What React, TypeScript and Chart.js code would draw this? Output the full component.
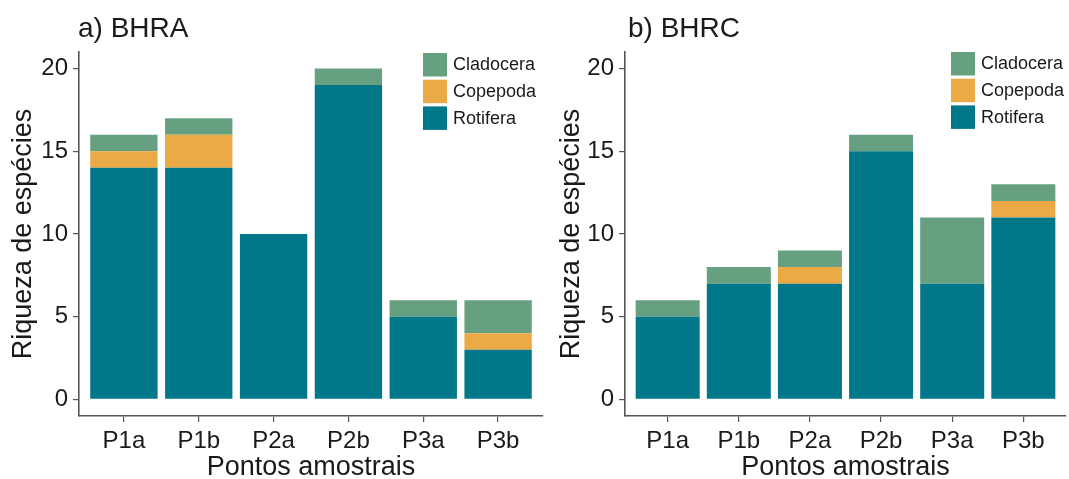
import { useEffect, useRef } from "react";
import { Chart, registerables } from "chart.js";

Chart.register(...registerables);

// Sampling sites along the x axis
const sites = ["P1a", "P1b", "P2a", "P2b", "P3a", "P3b"];

// Zooplankton groups, stacked bottom to top
const groups = ["Rotifera", "Copepoda", "Cladocera"];
const groupColors = ["#00788A", "#EBAA46", "#66A080"];

// Species richness per group – BHRA
const bhraRotifera = [14, 14, 10, 19, 5, 3];
const bhraCopepoda = [1, 2, 0, 0, 0, 1];
const bhraCladocera = [1, 1, 0, 1, 1, 2];

// Species richness per group – BHRC
const bhrcRotifera = [5, 7, 7, 15, 7, 11];
const bhrcCopepoda = [0, 0, 1, 0, 0, 1];
const bhrcCladocera = [1, 1, 1, 1, 4, 1];

const yTicks = [0, 5, 10, 15, 20];

const FONT = '"Liberation Sans", Arial, Helvetica, sans-serif';
const TEXT = "#1a1a1a";
const AXIS = "#555555";
const HEIGHT = 479;

type PanelProps = {
  title: string;
  series: number[][];
  left: number;
  width: number;
  axisWidth: number;
  rightPad: number;
  titleX: number;
  legendX: number;
  legendTop: number;
};

function Panel({ title, series, left, width, axisWidth, rightPad, titleX, legendX, legendTop }: PanelProps) {
  const ref = useRef<HTMLCanvasElement>(null);

  useEffect(() => {
    // Panel heading and the key in the upper-right corner
    const decor = {
      id: "panelDecor",
      afterDraw(chart: any) {
        const ctx = chart.ctx as CanvasRenderingContext2D;
        ctx.save();
        ctx.fillStyle = TEXT;
        ctx.font = `28px ${FONT}`;
        ctx.textAlign = "left";
        ctx.textBaseline = "middle";
        ctx.fillText(title, titleX, 29);

        const items = chart.data.datasets.slice().reverse();
        items.forEach((ds: any, i: number) => {
          const y = legendTop + i * 26.7;
          ctx.fillStyle = ds.backgroundColor;
          ctx.fillRect(legendX, y, 24, 23.5);
          ctx.fillStyle = TEXT;
          ctx.font = `18px ${FONT}`;
          ctx.fillText(ds.label, legendX + 30, y + 12.5);
        });
        ctx.restore();
      },
    };

    const chart = new Chart(ref.current!, {
      type: "bar",
      data: {
        datasets: groups.map((g, i) => ({
          label: g,
          data: sites.map((_, k) => ({ x: k + 1, y: series[i][k] })),
          backgroundColor: groupColors[i],
          borderWidth: 0,
          categoryPercentage: 1,
          barPercentage: 0.9,
        })),
      },
      options: {
        responsive: false,
        maintainAspectRatio: false,
        animation: false,
        layout: { padding: { top: 52, left: 0, right: rightPad, bottom: 0 } },
        plugins: {
          legend: { display: false },
          tooltip: { enabled: false },
          title: { display: false },
        },
        scales: {
          x: {
            type: "linear",
            stacked: true,
            min: 0.4,
            max: 6.6,
            offset: false,
            afterBuildTicks: (s: any) => {
              s.ticks = sites.map((_, k) => ({ value: k + 1 }));
            },
            afterFit: (s: any) => {
              s.height = HEIGHT - 416;
            },
            ticks: {
              autoSkip: false,
              maxRotation: 0,
              padding: 5,
              color: TEXT,
              font: { family: FONT, size: 24 },
              callback: (v: any) => sites[Math.round(Number(v)) - 1] ?? "",
            },
            grid: { drawOnChartArea: false, offset: false, tickLength: 6, color: AXIS, lineWidth: 1.2 },
            border: { display: true, color: AXIS, width: 1.6 },
            title: {
              display: true,
              text: "Pontos amostrais",
              color: TEXT,
              font: { family: FONT, size: 27, lineHeight: 1 },
              padding: { top: 0, bottom: -2 },
            },
          },
          y: {
            type: "linear",
            stacked: true,
            min: -1,
            max: 21,
            afterBuildTicks: (s: any) => {
              s.ticks = yTicks.map((v) => ({ value: v }));
            },
            afterFit: (s: any) => {
              s.width = axisWidth;
            },
            ticks: {
              padding: 5,
              color: TEXT,
              font: { family: FONT, size: 24 },
            },
            grid: { drawOnChartArea: false, tickLength: 6, color: AXIS, lineWidth: 1.2 },
            border: { display: true, color: AXIS, width: 1.6 },
            title: {
              display: true,
              text: "Riqueza de espécies",
              color: TEXT,
              font: { family: FONT, size: 27, lineHeight: 1.2 },
              padding: { top: 7, bottom: 0 },
            },
          },
        },
      } as any,
      plugins: [decor],
    });
    return () => chart.destroy();
  }, []);

  return (
    <canvas
      ref={ref}
      width={width}
      height={HEIGHT}
      style={{ position: "absolute", left, top: 0, width, height: HEIGHT }}
    />
  );
}

export default function App() {
  return (
    <div style={{ position: "fixed", left: 0, top: 0, width: 1069, height: HEIGHT, background: "#ffffff" }}>
      <Panel
        title="a) BHRA"
        series={[bhraRotifera, bhraCopepoda, bhraCladocera]}
        left={0}
        width={548}
        axisWidth={79}
        rightPad={5}
        titleX={78}
        legendX={423}
        legendTop={53}
      />
      <Panel
        title="b) BHRC"
        series={[bhrcRotifera, bhrcCopepoda, bhrcCladocera]}
        left={548}
        width={521}
        axisWidth={77}
        rightPad={3}
        titleX={80}
        legendX={403}
        legendTop={52}
      />
    </div>
  );
}
